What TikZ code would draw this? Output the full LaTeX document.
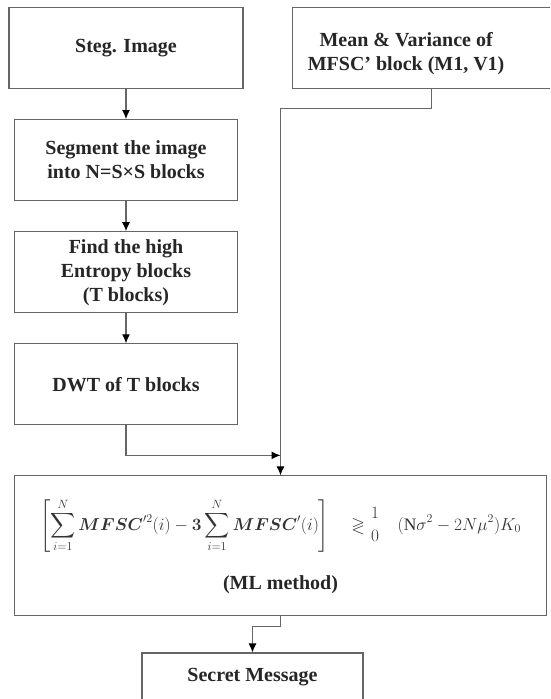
\documentclass[tikz,border=0pt]{standalone}
\usepackage{amsmath,amssymb,bm}
\usepackage{fontspec}
\setmainfont{Liberation Serif}
\usetikzlibrary{positioning,arrows.meta}

\begin{document}
\begin{tikzpicture}[>={Latex[length=9pt,width=8pt,color=black]}, node distance=30pt,
  x=1pt, y=1pt,
  box/.style={draw=black!60, line width=1.1pt, fill=white, align=center,
    font=\fontsize{20}{24}\selectfont\bfseries, text=black!85},
  colbox/.style={box, minimum width=223pt, minimum height=81pt},
  link/.style={draw=black!60, line width=1.1pt}]
\useasboundingbox (0,0) rectangle (550,-699);
\clip (0,0) rectangle (550,-699);

% left column
\node[colbox, minimum width=234pt] (steg) at (126,-48) {Steg. Image};
\node[colbox, below=of steg] (seg) {Segment the image\\into N=S×S blocks};
\node[colbox, below=of seg] (find) {Find the high\\Entropy blocks\\(T blocks)};
\node[colbox, below=of find] (dwt) {DWT of T blocks};

% right box, cut by the page edge
\node[box, minimum width=278pt, minimum height=81pt, right=48pt of steg,
  label={[box, draw=none, fill=none, xshift=-25pt, yshift=-6pt]center:{Mean \& Variance of\\MFSC' block (M1, V1)}}]
  (mean) {};

% decision rule
\node[box, minimum width=532pt, minimum height=140pt, below right=50pt and 0pt of dwt.south west]
  (ml) {{\fontsize{17.5}{20}\selectfont\color{black!80}$\displaystyle
    \left[\sum_{i=1}^{N}\bm{MFSC}^{\prime 2}(i)-\bm{3}\sum_{i=1}^{N}\bm{MFSC}^{\prime}(i)\right]
    \quad\gtrless\genfrac{}{}{0pt}{}{1}{0}\quad
    (\mathrm{N}\sigma^{2}-2N\mu^{2})K_{0}$}\\[22pt](ML method)};

\node[box, minimum width=221pt, inner ysep=15pt, text depth=45pt, below=36pt of ml, xshift=-28pt]
  (secret) {Secret Message};

\coordinate[above=20pt of ml.north] (merge);

\draw[link, ->] (steg) -- (seg);
\draw[link, ->] (seg) -- (find);
\draw[link, ->] (find) -- (dwt);
\draw[link, ->] (mean.south) -- ++(0,-19) -| (ml.north);
\draw[link, ->] (dwt.south) |- (merge);
\draw[link, ->] (ml.south) -- ++(0,-10) -| (secret.north);
\end{tikzpicture}
\end{document}
